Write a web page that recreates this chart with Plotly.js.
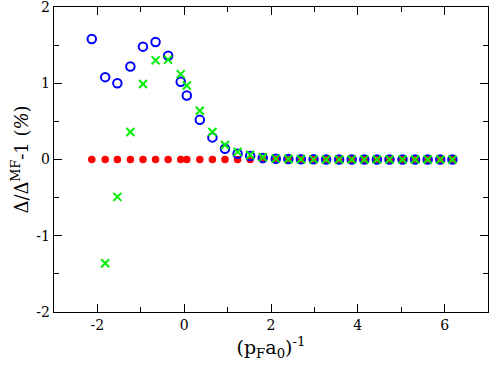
<!DOCTYPE html>
<html>
<head>
<meta charset="utf-8">
<script src="https://cdn.plot.ly/plotly-3.0.1.min.js"></script>
<style>html,body{margin:0;padding:0;background:#fff;}#chart{width:491px;height:370px;}</style>
</head>
<body>
<div id="chart"></div>
<script>
// x values ((p_F a_0)^-1)
const xRed = [-2.13, -1.82, -1.54, -1.24, -0.95, -0.66, -0.37, -0.08, 0.06, 0.36, 0.65, 0.94, 1.23, 1.52, 1.81, 2.11, 2.40, 2.69, 2.98, 3.27, 3.57, 3.86, 4.15, 4.44, 4.73, 5.03, 5.32, 5.61, 5.90, 6.18];
const yRed = [0, 0, 0, 0, 0, 0, 0, 0, 0, 0, 0, 0, 0, 0, 0, 0, 0, 0, 0, 0, 0, 0, 0, 0, 0, 0, 0, 0, 0, 0];

const xBlue = [-2.13, -1.82, -1.54, -1.24, -0.95, -0.66, -0.37, -0.08, 0.06, 0.36, 0.65, 0.94, 1.23, 1.52, 1.81, 2.11, 2.40, 2.69, 2.98, 3.27, 3.57, 3.86, 4.15, 4.44, 4.73, 5.03, 5.32, 5.61, 5.90, 6.18];
const yBlue = [1.58, 1.08, 1.00, 1.22, 1.48, 1.54, 1.36, 1.02, 0.84, 0.52, 0.29, 0.14, 0.075, 0.045, 0.02, 0.01, 0.005, 0.003, 0.002, 0.001, 0.001, 0, 0, 0, 0, 0, 0, 0, 0, 0];

const xGreen = [-1.82, -1.54, -1.24, -0.95, -0.66, -0.37, -0.08, 0.06, 0.36, 0.65, 0.94, 1.23, 1.52, 1.81, 2.11, 2.40, 2.69, 2.98, 3.27, 3.57, 3.86, 4.15, 4.44, 4.73, 5.03, 5.32, 5.61, 5.90, 6.18];
const yGreen = [-1.36, -0.49, 0.36, 0.99, 1.30, 1.31, 1.12, 0.97, 0.64, 0.36, 0.19, 0.10, 0.06, 0.03, 0.012, 0.006, 0.003, 0.002, 0.001, 0.001, 0, 0, 0, 0, 0, 0, 0, 0, 0];

const xTicks = [-2, 0, 2, 4, 6];
const yTicks = [-2, -1, 0, 1, 2];

const serif = "DejaVu Serif";

const traces = [
  {x: xRed, y: yRed, type: 'scatter', mode: 'markers',
   marker: {symbol: 'circle', size: 7.5, color: '#ff0000', line: {width: 0}}},
  {x: xBlue, y: yBlue, type: 'scatter', mode: 'markers',
   marker: {symbol: 'circle-open', size: 8.5, color: '#0000ff', line: {width: 2, color: '#0000ff'}}},
  {x: xGreen, y: yGreen, type: 'scatter', mode: 'markers',
   marker: {symbol: 'x-thin-open', size: 8, color: '#00ee00', line: {width: 2, color: '#00ee00'}}}
];

const axisCommon = {
  showgrid: false, zeroline: false, showline: true, linecolor: '#000', linewidth: 1.3,
  mirror: 'ticks', ticks: 'inside', ticklen: 8, tickwidth: 1, tickcolor: '#000',
  ticklabeloverflow: 'allow',
  tickfont: {family: serif, size: 14, color: '#000'}
};

const layout = {
  width: 491, height: 370,
  margin: {l: 54, r: 3, t: 7, b: 58},
  paper_bgcolor: '#fff', plot_bgcolor: '#fff',
  showlegend: false,
  font: {family: serif},
  xaxis: Object.assign({}, axisCommon, {
    range: [-3, 7], tickvals: xTicks, ticktext: xTicks.map(String),
    minor: {dtick: 1, tick0: 0, ticks: 'inside', ticklen: 5, tickwidth: 1, tickcolor: '#000'},
    title: {text: '(p<sub>F</sub>a<sub>0</sub>)<sup>-1</sup>', font: {family: serif, size: 19, color: '#000'}, standoff: 8}
  }),
  yaxis: Object.assign({}, axisCommon, {
    range: [-2, 2], tickvals: yTicks, ticktext: yTicks.map(String),
    minor: {dtick: 0.5, tick0: 0, ticks: 'inside', ticklen: 5, tickwidth: 1, tickcolor: '#000'},
    title: {text: 'Δ/Δ<sup>MF</sup>-1 (<i>%</i>)', font: {family: serif, size: 18, color: '#000'}, standoff: 3}
  })
};

Plotly.newPlot('chart', traces, layout, {displayModeBar: false, staticPlot: true});
</script>
</body>
</html>
